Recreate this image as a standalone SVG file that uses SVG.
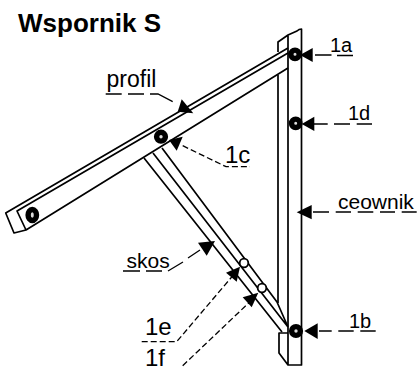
<svg xmlns="http://www.w3.org/2000/svg" width="419" height="367" viewBox="0 0 419 367">
<style>
text{font-family:"Liberation Sans",Arial,sans-serif;fill:#000}
.s{fill:none;stroke:#000;stroke-width:1.7;stroke-linejoin:round}
.d{fill:none;stroke:#000;stroke-width:1.3;stroke-dasharray:6 3}
.l{fill:none;stroke:#000;stroke-width:1.3}
.a{fill:#000}
.b{fill:#ddd;stroke:#000;stroke-width:5.400}
.o{fill:#fff;stroke:#000;stroke-width:1.8}
</style>
<rect width="419" height="367" fill="#fff"/>
<text x="18" y="32" font-size="26" font-weight="bold">Wspornik S</text>
<g id="ceownik">
<path class="s" d="M278 52V42L288 35L297 31Q299 29 301.500 29V365H288L279 353V333H288M288 35V365M278 75V303"/>
</g>
<g id="profil">
<path class="s" d="M288 48L5.700 213L14 233L26 230L288 68M288 53L17 211L26 230"/>
</g>
<g id="skos">
<path class="s" d="M144 158L282 332M153 153L288 327M162 148L277 302L288 327"/>
</g>
<g id="bolts">
<circle id="bolt-1a" class="b" cx="295" cy="54.300" r="4.200"/>
<circle id="bolt-1d" class="b" cx="295.700" cy="123.300" r="4.200"/>
<circle id="bolt-1b" class="b" cx="296" cy="331" r="4.400"/>
<circle id="bolt-1c" class="b" cx="161" cy="136.700" r="4.400"/>
<ellipse id="bolt-end" class="b" cx="32.300" cy="215" rx="4.200" ry="5.500"/>
<circle id="bolt-1e" class="o" cx="244" cy="263" r="4.300"/>
<circle id="bolt-1f" class="o" cx="262" cy="288" r="4.300"/>
</g>
<g id="connectors">
<path class="a" d="M300 55L312.700 48V62Z"/>
<path class="l" d="M315 55H331.500M337 55.500H353"/>
<path class="a" d="M301.700 124L314.300 116.700V131Z"/>
<path class="l" d="M314 124H327.700M334 124H350M356.700 124H372"/>
<path class="a" d="M304.300 331L317.700 323.300V339Z"/>
<path class="l" d="M319 331H331.700M338.300 331H353.700M360.300 331H375.700"/>
<path class="a" d="M296.700 212.300L311.700 205V219.300Z"/>
<path class="l" d="M313 212H329M335.700 212H351M357.700 212H373.300M380 212H395M401.700 212H416.700"/>
<path class="a" d="M193.300 113.300L181.700 99.300L177.700 111.700Z"/>
<path class="l" d="M105.700 94H121.700M128 94H144M150 94H158L172.700 101.700"/>
<path class="a" d="M169 140L182.700 136.700L176.700 150.700Z"/>
<path class="d" d="M182.700 145.700L226 166.700H250"/>
<path class="a" d="M215 241L198 242.700L206.700 255.700Z"/>
<path class="l" d="M123 271H140M146 271H162M168 271L183 262M188 258L200 250"/>
<path class="a" d="M240 266.700L226 272.700L236.700 281.700Z"/>
<path class="d" d="M141.700 341.700H176.700L231.700 277"/>
<path class="a" d="M258.300 292.700L242.700 297.300L251.700 307.300Z"/>
<path class="d" d="M182.700 365.700L250 301.700"/>
</g>
<g id="labels">
<text x="106.500" y="87" font-size="23">profil</text>
<text x="225" y="163" font-size="24">1c</text>
<text x="330" y="52" font-size="20">1a</text>
<text x="348" y="120" font-size="20">1d</text>
<text x="349" y="328" font-size="20">1b</text>
<text x="338" y="209" font-size="21">ceownik</text>
<text x="126.500" y="268" font-size="21">skos</text>
<text x="145" y="335" font-size="24">1e</text>
<text x="145" y="365.500" font-size="24">1f</text>
</g>
</svg>
